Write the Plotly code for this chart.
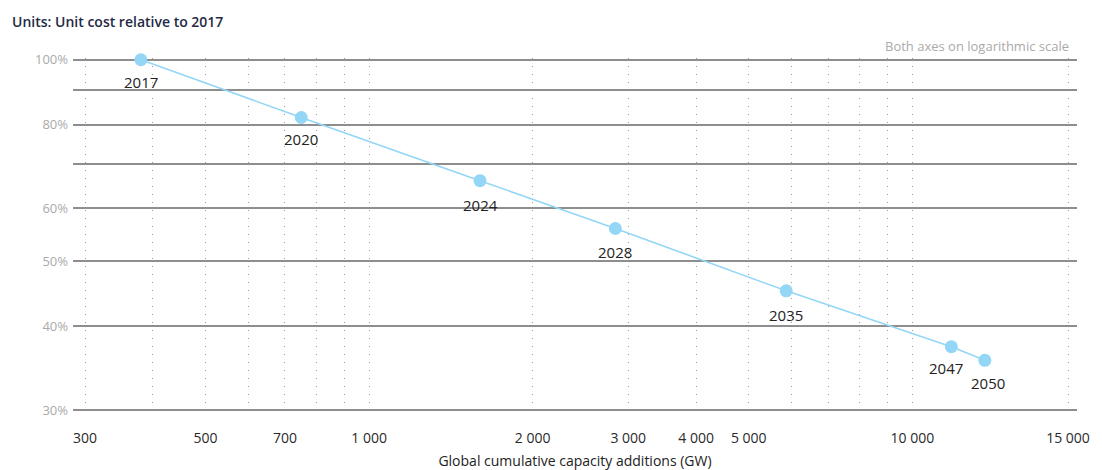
import plotly.graph_objects as go
import math

years = ["2017", "2020", "2024", "2028", "2035", "2047", "2050"]
capacity_gw = [380, 750, 1600, 2840, 5860, 11800, 13600]
unit_cost_pct = [100, 82, 66, 56, 45.2, 37.3, 35.6]

x_grid_values = [300, 400, 500, 600, 700, 800, 900, 1000, 2000, 3000, 4000, 5000,
                 6000, 7000, 8000, 9000, 10000, 19350]
x_grid_text = ["300", "", "500", "", "700", "", "", "1 000", "2 000", "3 000", "4 000",
               "5 000", "", "", "", "", "10 000", "15 000"]
y_grid_values = [30, 40, 50, 60, 70, 80, 90, 100]
y_grid_text = ["30%", "40%", "50%", "60%", "", "80%", "", "100%"]

line_color = "#93D6F5"
font_family = "Open Sans, Noto Sans, sans-serif"

fig = go.Figure()
fig.add_trace(go.Scatter(
    x=capacity_gw, y=unit_cost_pct,
    mode="lines+markers",
    line=dict(color=line_color, width=1.6),
    marker=dict(color=line_color, size=13),
    cliponaxis=False,
    showlegend=False,
))

label_xshift = [0, 0, 0, 0, 0, -5, 3]
label_yshift = [-22, -21, -24, -24, -24, -21, -23]
annotations = []
for yr, xv, yv, dx, dy in zip(years, capacity_gw, unit_cost_pct, label_xshift, label_yshift):
    annotations.append(dict(
        x=math.log10(xv), y=math.log10(yv), xref="x", yref="y", text=yr,
        showarrow=False, xanchor="center", yanchor="middle",
        xshift=dx, yshift=dy,
        font=dict(size=15, color="#222222"),
    ))

annotations += [
    dict(text="Units: Unit cost relative to 2017", xref="paper", yref="paper",
         x=-63/1004, y=1 + 36/360, xanchor="left", yanchor="middle",
         showarrow=False, font=dict(size=14, color="#1f2a44", weight=600)),
    dict(text="Both axes on logarithmic scale", xref="paper", yref="paper",
         x=1 - 6/1004, y=1 + 12/360, xanchor="right", yanchor="middle",
         showarrow=False, font=dict(size=13, color="#aaaaaa")),
]

fig.update_layout(
    width=1102, height=470,
    margin=dict(l=73, r=25, t=58, b=52),
    paper_bgcolor="white", plot_bgcolor="white",
    font=dict(family=font_family),
    xaxis=dict(
        type="log", automargin=False,
        range=[math.log10(285), math.log10(20100)],
        tickmode="array", tickvals=x_grid_values, ticktext=x_grid_text,
        showgrid=True, gridcolor="#9a9a9a", gridwidth=1, griddash="1px,7px",
        showline=False, zeroline=False, ticks="",
        tickfont=dict(size=14, color="#2a2a2a"),
        ticklabelstandoff=10,
        title=dict(text="Global cumulative capacity additions (GW)",
                   font=dict(size=14, color="#222222"), standoff=12),
    ),
    yaxis=dict(
        type="log", automargin=False,
        range=[math.log10(29.2), math.log10(100.6)],
        tickmode="array", tickvals=y_grid_values, ticktext=y_grid_text,
        showgrid=True, gridcolor="#8e8e8e", gridwidth=1.6,
        showline=False, zeroline=False, ticks="",
        tickfont=dict(size=13, color="#aaaaaa"),
        ticklabelstandoff=4,
    ),
    annotations=annotations,
)

fig.write_html("out.html")
